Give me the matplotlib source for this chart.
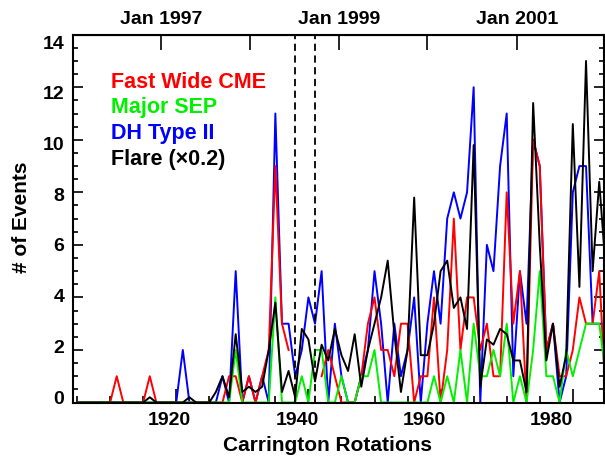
import numpy as np
import matplotlib
matplotlib.use('Agg')
from matplotlib import pyplot as plt
from matplotlib.ticker import MultipleLocator, NullFormatter

plt.rcParams['font.family'] = ['Liberation Sans', 'DejaVu Sans']
plt.rcParams['font.weight'] = 'bold'

# Carrington rotation numbers, one value per rotation
cr = np.arange(1905, 1986)

nan = np.nan
cme = [0, 0, 0, 0, 0, 0, 1, 0, 0, 0,
       0, 1, 0, 0, 0, 0, 0, 0, 0, 0,
       0, 0, 0, 1, 1, 0, 1, 0, 1, 2,
       9, 3, 2, nan, nan, nan, nan, 1, 2, 1,
       0, 0, 0, 1, 3, 4, 2, 2, 1, 3,
       3, 0, 1, 1, 4, 0, 2, 7, 2, 4,
       4, 2, 3, 1, 1, 8, 3, 5, 0, 10,
       9, 2, 3, 1, 1, 2, 4, 3, 3, 5, 0]
sep = [0, 0, 0, 0, 0, 0, 0, 0, 0, 0,
       0, 0, 0, 0, 0, 0, 0, 0, 0, 0,
       0, 0, 0, 0, 2, 0, 0, 0, 0, 0,
       4, 0, 0, 0, 1, 0, 2, 2, 0, 0,
       1, 0, 0, 1, 1, 2, 0, 0, 0, 0,
       0, 0, 0, 0, 1, 0, 1, 0, 2, 0,
       3, 1, 1, 2, 1, 3, 0, 1, 0, 2,
       5, 1, 1, 0, 2, 1, 2, 3, 3, 3, 1]
dh2 = [0, 0, 0, 0, 0, 0, 0, 0, 0, 0,
       0, 0, 0, 0, 0, 0, 2, 0, 0, 0,
       0, 0, 1, 0, 5, 0, 1, 0, 1, 0,
       11, 3, 3, 1, 2, 4, 3, 5, 0, 3,
       1, 0, 0, 1, 2, 5, 3, 0, 3, 1,
       2, 4, 0, 3, 5, 3, 7, 8, 7, 8,
       12, 0, 6, 5, 9, 11, 1, 5, 3, 10,
       9, 2, 3, 0, 1, 8, 9, 9, 3, 3, 3]
flare = [0, 0, 0, 0, 0, 0, 0, 0, 0, 0,
         0, 0.2, 0, 0, 0, 0, 0, 0.2, 0, 0,
         0, 0.4, 1.0, 0.2, 2.6, 0.4, 0.6, 0.4, 0.6, 2.0,
         3.8, 0.4, 1.2, 0.2, 2.8, 2.4, 0.8, 2.2, 1.6, 2.8,
         1.8, 1.2, 2.6, 0.6, 2.0, 3.0, 4.0, 5.4, 2.6, 0.4,
         2.0, 7.8, 1.8, 1.8, 3.0, 5.0, 5.4, 3.6, 4.0, 2.8,
         9.8, 0.6, 2.4, 2.2, 2.8, 2.6, 1.6, 1.6, 0.4, 11.4,
         6.0, 1.6, 3.0, 0.6, 1.8, 10.6, 4.4, 13.0, 5.0, 8.4, 5.0]

# SOHO data gap
gap_cr = [1938, 1941]

# top axis: January of each year, in Carrington rotations
year_cr = [1917.70, 1931.17, 1944.63, 1957.95, 1971.57]
year_lab = ['Jan 1997', '', 'Jan 1999', '', 'Jan 2001']

bottom_lab = [1920, 1940, 1960, 1980]
left_lab = [0, 2, 4, 6, 8, 10, 12, 14]

series = [('Fast Wide CME', cme, 'red'),
          ('Major SEP', sep, '#00f000'),
          ('DH Type II', dh2, 'blue'),
          (u'Flare (\u00d70.2)', flare, 'black')]

fig = plt.figure(figsize=(6.05, 4.63), dpi=100)
rect = [72.7/605, 1-402.5/463, (604-72.7)/605, (402.5-34.7)/463]

# tick labels sit on a slightly compressed scale, so they get their own axes
axl = fig.add_axes(rect, frameon=False)
axl.set_xlim(1904.80, 1988.21)
axl.set_ylim(-0.217, 14.296)
axl.set_xticks(bottom_lab)
axl.set_yticks(left_lab)
axl.tick_params(length=0, labelsize=14)
axl.tick_params(axis='x', pad=7)
axl.tick_params(axis='y', pad=6)

ax = fig.add_axes(rect)
ax.patch.set_alpha(0)
for name, vals, col in [series[2], series[0], series[1], series[3]]:
    ax.plot(cr, vals, color=col, lw=1.4)
for g in gap_cr:
    ax.axvline(g, color='black', lw=1.3, linestyle=(0, (4, 2.5)))

ax.set_xlim(1904.34, 1984.72)
ax.set_ylim(0, 14)
ax.xaxis.set_major_locator(MultipleLocator(20))
ax.xaxis.set_minor_locator(MultipleLocator(5))
ax.yaxis.set_major_locator(MultipleLocator(2))
ax.yaxis.set_minor_locator(MultipleLocator(0.5))
ax.xaxis.set_major_formatter(NullFormatter())
ax.yaxis.set_major_formatter(NullFormatter())
ax.tick_params(which='both', direction='in', right=True, top=False, width=1.2, color='black')
ax.tick_params(axis='y', which='major', length=7.5)
ax.tick_params(axis='y', which='minor', length=3.5)
ax.tick_params(axis='x', which='major', length=10)
ax.tick_params(axis='x', which='minor', length=5)
for s in ax.spines.values():
    s.set_linewidth(1.5)

top = ax.secondary_xaxis('top')
top.set_xticks(year_cr, year_lab)
top.tick_params(direction='in', length=11, width=1.2, labelsize=14, pad=5)
top.xaxis.set_minor_locator(MultipleLocator(1000))

for i, (name, vals, col) in enumerate(series):
    fig.text(110.7/605, 1-(87.5+26*i)/463, name, color=col, fontsize=15.5,
             fontweight='bold', va='baseline', ha='left')

fig.text(327.5/605, 1-451/463, 'Carrington Rotations', fontsize=15,
         fontweight='bold', ha='center', va='baseline')
fig.text(22/605, 1-217/463, '# of Events', fontsize=15, fontweight='bold',
         rotation=90, ha='center', va='center')

fig.savefig('out.png', dpi=100)
